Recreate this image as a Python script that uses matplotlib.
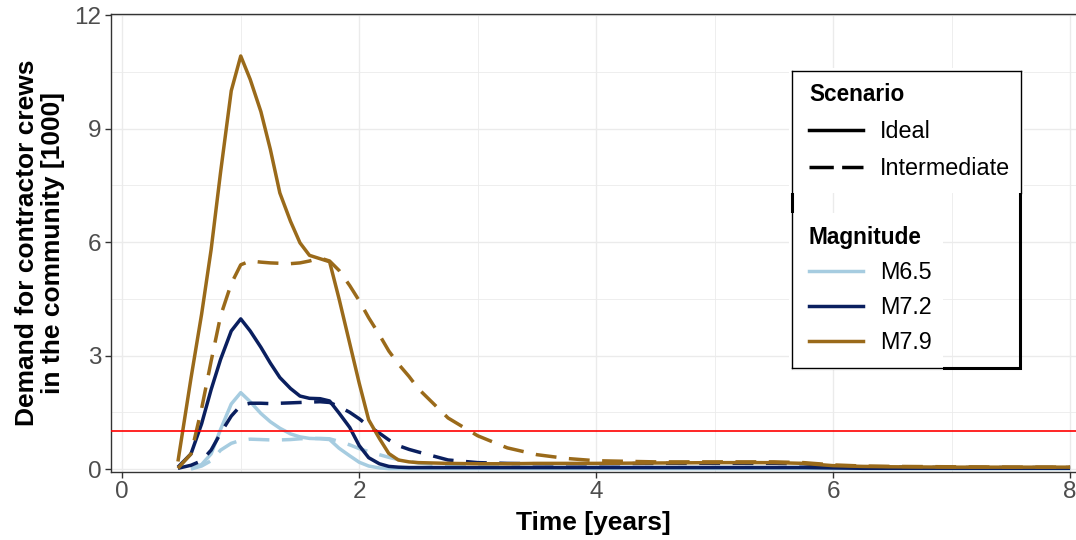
import matplotlib
matplotlib.use("Agg")
import matplotlib.pyplot as plt
from matplotlib.lines import Line2D
from matplotlib.patches import Rectangle
from matplotlib.ticker import MultipleLocator
import numpy as np

plt.rcParams['font.family'] = ['Liberation Sans', 'DejaVu Sans']

# time axis [years]
time_years = [0.47, 0.58, 0.67, 0.75, 0.83, 0.92, 1.0, 1.08, 1.17, 1.25, 1.33, 1.42,
              1.5, 1.58, 1.67, 1.75, 1.83, 1.92, 2.0, 2.08, 2.17, 2.25, 2.33, 2.42,
              2.5, 2.75, 3.0, 3.25, 3.5, 3.75, 4.0, 4.5, 5.0, 5.5, 5.75, 6.0, 6.25,
              6.5, 7.0, 7.5, 8.0]

# demand [1000 crews], ideal scenario
m65_ideal = [np.nan, 0.02, 0.12, 0.4, 1.05, 1.72, 2.02, 1.78, 1.47, 1.25, 1.08, 0.93,
             0.85, 0.81, 0.8, 0.78, 0.55, 0.35, 0.18, 0.08, 0.03, 0.01, 0.01, 0.01,
             0.01, 0.01, 0.01, 0.01, 0.01, 0.01, 0.01, 0.01, 0.01, 0.01, 0.01, 0.01,
             0.01, 0.01, 0.01, 0.01, 0.01]
m72_ideal = [0.05, 0.4, 1.2, 2.1, 2.9, 3.65, 3.97, 3.65, 3.22, 2.8, 2.42, 2.13,
             1.93, 1.87, 1.86, 1.8, 1.48, 1.1, 0.62, 0.3, 0.14, 0.07, 0.05, 0.04,
             0.04, 0.04, 0.04, 0.04, 0.04, 0.04, 0.04, 0.04, 0.04, 0.04, 0.04, 0.03,
             0.02, 0.02, 0.02, 0.02, 0.02]
m79_ideal = [0.2, 2.4, 4.1, 5.8, 7.85, 10.0, 10.92, 10.3, 9.45, 8.45, 7.3, 6.55,
             5.98, 5.65, 5.56, 5.48, 4.5, 3.32, 2.27, 1.3, 0.81, 0.41, 0.24, 0.19,
             0.17, 0.15, 0.14, 0.14, 0.15, 0.15, 0.15, 0.16, 0.17, 0.17, 0.15, 0.09,
             0.07, 0.06, 0.05, 0.05, 0.05]

# demand [1000 crews], intermediate scenario
m65_inter = [np.nan, 0.0, 0.08, 0.22, 0.5, 0.68, 0.76, 0.79, 0.78, 0.77, 0.77, 0.78,
             0.8, 0.81, 0.81, 0.8, 0.73, 0.64, 0.54, 0.46, 0.38, 0.31, 0.25, 0.2,
             0.16, 0.1, 0.06, 0.05, 0.04, 0.04, 0.04, 0.04, 0.04, 0.04, 0.04, 0.03,
             0.02, 0.02, 0.02, 0.02, 0.02]
m72_inter = [0.02, 0.1, 0.22, 0.5, 0.95, 1.4, 1.68, 1.74, 1.74, 1.73, 1.74, 1.75,
             1.76, 1.77, 1.78, 1.76, 1.65, 1.5, 1.33, 1.13, 0.95, 0.77, 0.62, 0.52,
             0.45, 0.24, 0.17, 0.15, 0.14, 0.14, 0.14, 0.15, 0.15, 0.15, 0.14, 0.08,
             0.06, 0.05, 0.04, 0.04, 0.04]
m79_inter = [0.02, 0.4, 1.6, 2.85, 4.05, 4.9, 5.4, 5.5, 5.47, 5.45, 5.44, 5.43,
             5.45, 5.5, 5.58, 5.5, 5.25, 4.85, 4.45, 4.0, 3.55, 3.12, 2.78, 2.45,
             2.12, 1.35, 0.88, 0.56, 0.38, 0.28, 0.22, 0.19, 0.19, 0.19, 0.17, 0.11,
             0.08, 0.07, 0.06, 0.05, 0.05]

magnitudes = ['M6.5', 'M7.2', 'M7.9']
scenarios = ['Ideal', 'Intermediate']
colors = {'M6.5': '#A6CCE0', 'M7.2': '#0A1F5F', 'M7.9': '#9A6A1A'}
series = {
    'M6.5': (m65_ideal, m65_inter),
    'M7.2': (m72_ideal, m72_inter),
    'M7.9': (m79_ideal, m79_inter),
}
threshold = 1.0

W, H = 1076, 540
fig = plt.figure(figsize=(W / 100, H / 100), dpi=100)
ax = fig.add_axes([111 / W, 1 - 471.7 / H, (W - 111) / W, (471.7 - 14) / H])

lw = 2.5
dash = (6, 3.6)
for mag in magnitudes:
    ideal, inter = series[mag]
    ax.plot(time_years, ideal, color=colors[mag], lw=lw, solid_capstyle='butt', zorder=2)
    ax.plot(time_years, inter, color=colors[mag], lw=lw, dashes=dash, zorder=2)

ax.axhline(threshold, color='red', lw=1.2, zorder=3)

ax.set_xlim(-0.095, 8.05)
ax.set_ylim(-0.07, 12.03)
ax.xaxis.set_major_locator(MultipleLocator(2))
ax.xaxis.set_minor_locator(MultipleLocator(1))
ax.yaxis.set_major_locator(MultipleLocator(3))
ax.yaxis.set_minor_locator(MultipleLocator(1.5))
ax.grid(which='major', color='#EBEBEB', lw=1.0, zorder=0)
ax.grid(which='minor', color='#EBEBEB', lw=0.6, zorder=0)
ax.set_axisbelow(True)

ax.tick_params(which='major', length=4, width=1, color='#333333',
               labelsize=17.5, labelcolor='#4D4D4D', pad=3)
ax.tick_params(which='minor', length=0)
for side in ['left', 'bottom', 'top']:
    ax.spines[side].set_color('#333333')
    ax.spines[side].set_linewidth(1.0)
ax.spines['right'].set_visible(False)

ax.set_xlabel('Time [years]', fontsize=19, fontweight='bold')
ax.set_ylabel('Demand for contractor crews\nin the community [1000]',
              fontsize=19, fontweight='bold', linespacing=1.1)
ax.xaxis.set_label_coords(0.5, -0.085)
ax.yaxis.set_label_coords(-0.048, 0.5)


# legend background boxes (drawn in figure pixels)
def fx(px):
    return px / W


def fy(py):
    return 1 - py / H


tf = fig.transFigure
ax.add_patch(Rectangle((fx(792), fy(368)), fx(1020) - fx(792), fy(71) - fy(368),
                       transform=tf, fill=False, ec='black', lw=2.2,
                       clip_on=False, zorder=4))
ax.add_patch(Rectangle((fx(789), fy(193)), fx(1024) - fx(789), fy(68) - fy(193),
                       transform=tf, fc='white', ec='none', clip_on=False, zorder=4.1))
ax.add_patch(Rectangle((fx(789), fy(370)), fx(943) - fx(789), fy(213) - fy(370),
                       transform=tf, fc='white', ec='none', clip_on=False, zorder=4.1))
thin = [((792, 1021), (71, 71)), ((792, 792), (71, 193)), ((1021, 1021), (71, 193)),
        ((792, 792), (213, 368)), ((792, 943), (368, 368))]
for xs, ys in thin:
    ax.add_line(Line2D([fx(xs[0]), fx(xs[1])], [fy(ys[0]), fy(ys[1])], transform=tf,
                       color='black', lw=1.0, clip_on=False, zorder=4.2))

fs = 16.8
scen_handles = [Line2D([], [], color='black', lw=lw),
                Line2D([], [], color='black', lw=lw, dashes=(7, 2.4))]
leg1 = ax.legend(scen_handles, scenarios, title='Scenario', loc='upper left',
                 bbox_to_anchor=(fx(809), fy(83)), bbox_transform=tf,
                 frameon=False, fontsize=fs, alignment='left',
                 title_fontproperties={'weight': 'bold', 'size': 16.3},
                 handlelength=2.3, handletextpad=0.75, labelspacing=0.6,
                 borderpad=0, borderaxespad=0)
leg1.set_zorder(5)
ax.add_artist(leg1)

mag_handles = [Line2D([], [], color=colors[m], lw=lw) for m in magnitudes]
leg2 = ax.legend(mag_handles, magnitudes, title='Magnitude', loc='upper left',
                 bbox_to_anchor=(fx(809), fy(226)), bbox_transform=tf,
                 frameon=False, fontsize=fs, alignment='left',
                 title_fontproperties={'weight': 'bold', 'size': 16.3},
                 handlelength=2.3, handletextpad=0.75, labelspacing=0.52,
                 borderpad=0, borderaxespad=0)
leg2.set_zorder(5)

fig.savefig('out.png', dpi=100)
